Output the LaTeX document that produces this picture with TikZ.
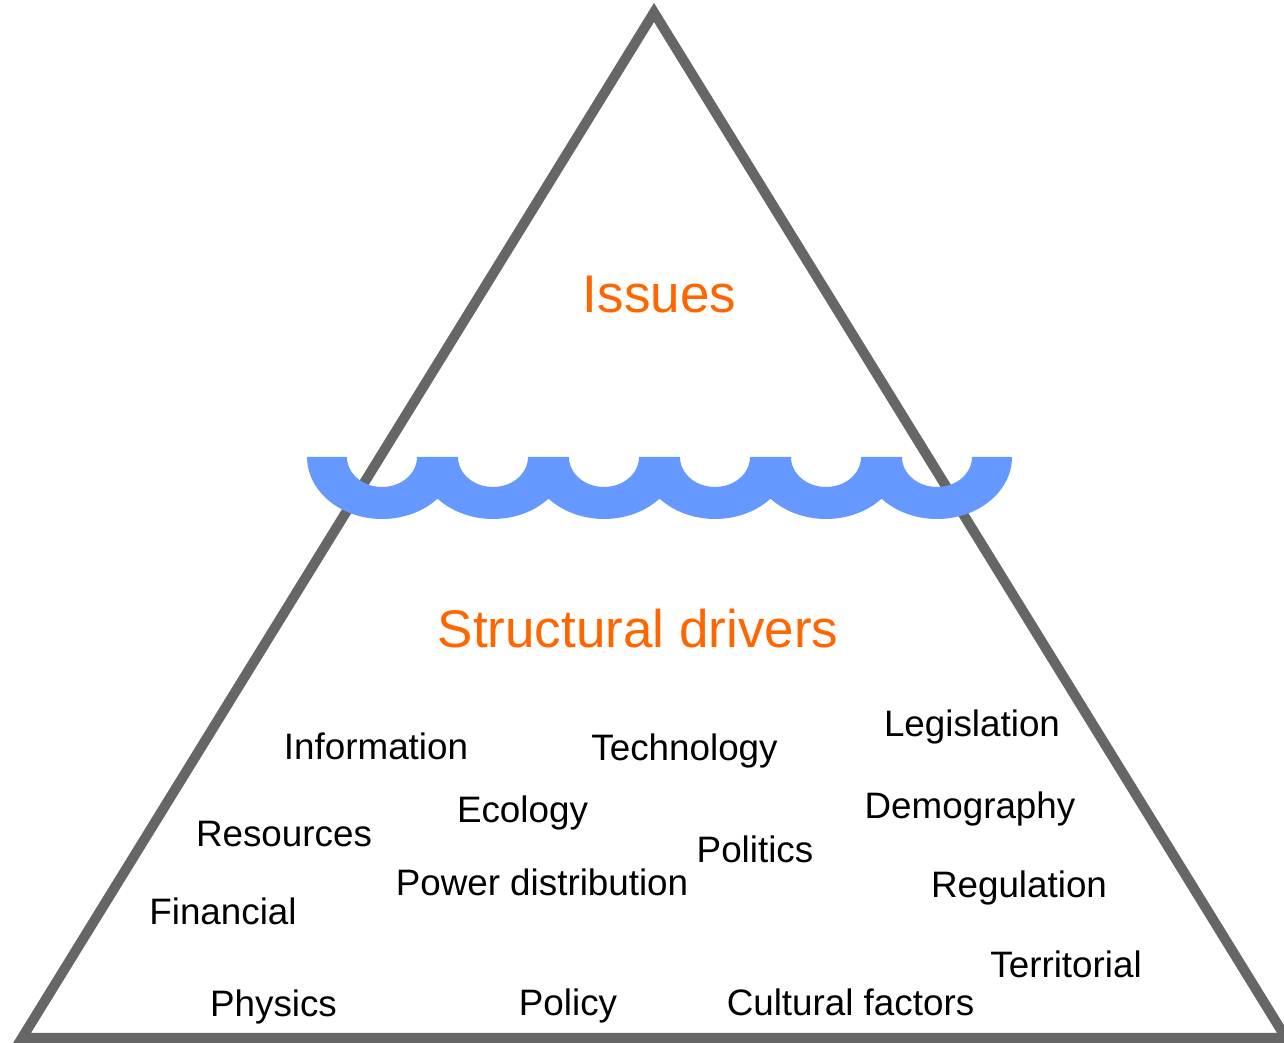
\documentclass[tikz,border=0pt]{standalone}
\usepackage{fontspec}
\setmainfont{Liberation Sans}
\definecolor{edgegray}{HTML}{666666}
\definecolor{waveblue}{HTML}{6699FF}
\definecolor{titleorange}{HTML}{FF6600}
\tikzset{
  driver/.style={anchor=base, inner sep=0pt, text=black, font=\fontsize{18.4}{22}\selectfont},
  title/.style={anchor=base, inner sep=0pt, text=titleorange, font=\fontsize{26.5}{32}\selectfont},
  edge/.style={draw=edgegray, line width=5pt, line join=miter},
  wave/.style={fill=waveblue, draw=none}
}
\begin{document}
\begin{tikzpicture}[x=0.5pt, y=0.5pt]
\useasboundingbox (0,0) rectangle (1284,1043);
\clip (0,0) rectangle (1284,1043);
% triangle (y measured upward: Y = 1043 - y)
\coordinate (apex) at (654,1030.5);
\coordinate (bl) at (22,5);
\coordinate (br) at (1286,5);
\draw[edge] (apex) -- (bl) -- (br) -- cycle;
% wave
\path[wave] (307,586) -- (347,586)
  arc[start angle=180, end angle=360, x radius=35, y radius=30] -- (458,586)
  arc[start angle=180, end angle=360, x radius=35, y radius=30] -- (569,586)
  arc[start angle=180, end angle=360, x radius=35, y radius=30] -- (680,586)
  arc[start angle=180, end angle=360, x radius=35, y radius=30] -- (791,586)
  arc[start angle=180, end angle=360, x radius=35, y radius=30] -- (902,586)
  arc[start angle=180, end angle=360, x radius=35, y radius=30] -- (1012,586)
  arc[start angle=0, end angle=-137.73, x radius=75, y radius=62]
  arc[start angle=-42.27, end angle=-137.73, x radius=75, y radius=62]
  arc[start angle=-42.27, end angle=-137.73, x radius=75, y radius=62]
  arc[start angle=-42.27, end angle=-137.73, x radius=75, y radius=62]
  arc[start angle=-42.27, end angle=-137.73, x radius=75, y radius=62]
  arc[start angle=-42.27, end angle=-180, x radius=75, y radius=62]
  -- cycle;
% titles
\node[title] (issues) at (659.5,730) {Issues};
\node[title] (structural) at (638,395) {Structural drivers};
% drivers
\node[driver] (information) at (376,283) {Information};
\node[driver] (technology) at (684.5,282) {Technology};
\node[driver] (legislation) at (972,306) {Legislation};
\node[driver] (ecology) at (522.5,220) {Ecology};
\node[driver] (demography) at (970,224) {Demography};
\node[driver] (resources) at (284,196) {Resources};
\node[driver] (politics) at (755,180) {Politics};
\node[driver] (power) at (542,147) {Power distribution};
\node[driver] (regulation) at (1019,145) {Regulation};
\node[driver] (financial) at (223,118) {Financial};
\node[driver] (territorial) at (1066,65) {Territorial};
\node[driver] (physics) at (273.5,26) {Physics};
\node[driver] (policy) at (568,27) {Policy};
\node[driver] (cultural) at (850.5,27) {Cultural factors};
\end{tikzpicture}
\end{document}
